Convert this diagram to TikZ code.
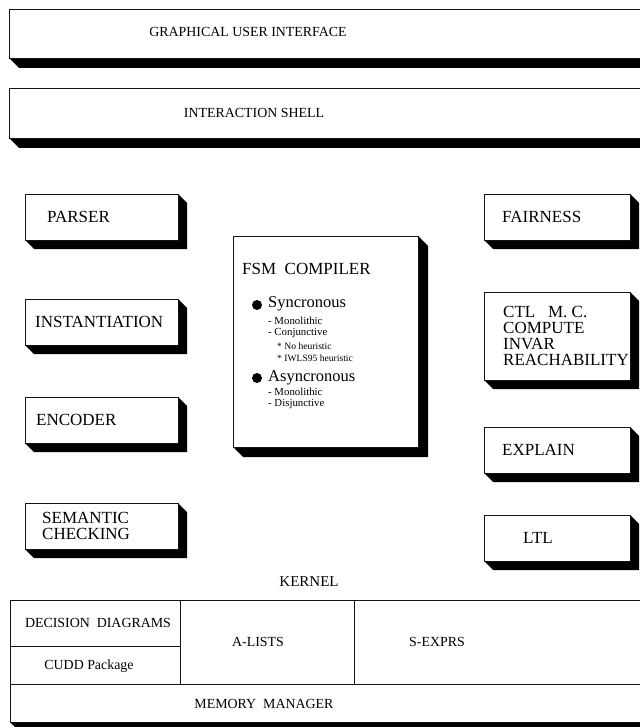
\documentclass[tikz,border=0pt]{standalone}
\usepackage{fontspec}
\setmainfont{Liberation Serif}
\usetikzlibrary{positioning}
\usetikzlibrary{calc}
\usetikzlibrary{backgrounds}
\definecolor{figBorde}{RGB}{20,20,20}
\definecolor{figSombra}{RGB}{0,0,0}
\tikzset{
  caja/.style={
    rectangle, draw=figBorde, line width=0.8pt, fill=white,
    minimum width=153pt, minimum height=46pt, inner sep=0pt, outer sep=0pt
  },
  cajad/.style={caja, minimum width=146pt},
  franja/.style={caja, minimum width=651pt, minimum height=49pt},
  celda/.style={
    rectangle, draw=figBorde, line width=0.8pt, inner sep=0pt, outer sep=0pt
  },
  rotulo/.style={inner sep=0pt, anchor=west, align=left, font=\fontsize{17}{16}\selectfont},
  rotulok/.style={inner sep=0pt, font=\fontsize{13.9}{16}\selectfont},
  rotulos/.style={inner sep=0pt, anchor=west, font=\fontsize{10.8}{12}\selectfont},
  rotulot/.style={inner sep=0pt, anchor=west, font=\fontsize{9.6}{11}\selectfont},
  punto/.style={circle, fill=black, inner sep=0pt, minimum size=10pt}
}
\newcommand{\sombra}[2]{%
  \fill[figSombra] (#1.south west) -- ++(#2,-#2) -- ($(#1.south east)+(#2,-#2)$)
    -- ($(#1.north east)+(#2,-#2)$) -- (#1.north east) -- (#1.south east) -- cycle;}

\begin{document}
\begin{tikzpicture}[x=1pt, y=-1pt]
  \useasboundingbox (0,0) rectangle (639,727);

  % Capas superiores
  \node[franja] (gui) at (334.5,33.5) {};
  \node[franja, minimum height=50pt, below=30pt of gui] (shell) {};
  \node[rotulok] (guitxt) at (248,32) {GRAPHICAL USER INTERFACE};
  \node[rotulok] (shelltxt) at (254,113) {INTERACTION SHELL};

  % Columna izquierda
  \node[caja] (parser) at (101.5,217) {};
  \node[caja, below=59pt of parser] (inst) {};
  \node[caja, below=52pt of inst] (enc) {};
  \node[caja, below=60pt of enc] (sem) {};
  \node[rotulo, right=22pt of parser.west] (parsertxt) {PARSER};
  \node[rotulo, right=10pt of inst.west] (insttxt) {INSTANTIATION};
  \node[rotulo, right=11pt of enc.west] (enctxt) {ENCODER};
  \node[rotulo, right=17pt of sem.west] (semtxt) {SEMANTIC\\CHECKING};

  % Columna derecha
  \node[cajad] (fair) at (557,217) {};
  \node[cajad, minimum height=88pt, below=52pt of fair] (ctl) {};
  \node[cajad, below=47pt of ctl] (expl) {};
  \node[cajad, below=42pt of expl] (ltl) {};
  \node[rotulo, right=18pt of fair.west] (fairtxt) {FAIRNESS};
  \node[rotulo, right=19pt of ctl.west] (ctltxt) {CTL~~~M.~C.\\COMPUTE\\INVAR\\REACHABILITY};
  \node[rotulo, right=18pt of expl.west] (expltxt) {EXPLAIN};
  \node[rotulo, right=39pt of ltl.west] (ltltxt) {LTL};

  % Compilador FSM
  \node[caja, minimum width=185pt, minimum height=211pt] (fsm) at (325.5,341.5) {};
  \node[rotulo] (fsmtit) at (242,269) {FSM~~COMPILER};
  \node[punto] (p1) at (257,305) {};
  \node[rotulo, font=\fontsize{16.5}{18}\selectfont] (sinc) at (268,304) {Syncronous};
  \node[rotulos] (s1) at (268,321) {- Monolithic};
  \node[rotulos] (s2) at (268,333.5) {- Conjunctive};
  \node[rotulot] (s3) at (277,346.5) {* No heuristic};
  \node[rotulot] (s4) at (277,358.5) {* IWLS95 heuristic};
  \node[punto] (p2) at (257,378) {};
  \node[rotulo, font=\fontsize{16.5}{18}\selectfont] (asinc) at (268,378) {Asyncronous};
  \node[rotulos] (a1) at (268,392) {- Monolithic};
  \node[rotulos] (a2) at (268,404.5) {- Disjunctive};

  % Nucleo
  \node[rotulok, font=\fontsize{15}{16}\selectfont] (kerntxt) at (309,582) {KERNEL};
  \node[celda, minimum width=170pt, minimum height=46pt] (dd) at (95,623) {};
  \node[celda, minimum width=170pt, minimum height=38pt, below=0pt of dd] (cudd) {};
  \node[celda, minimum width=174pt, minimum height=84pt, anchor=north west] (alist) at (dd.north east) {};
  \node[celda, minimum width=306pt, minimum height=84pt, anchor=north west] (sexp) at (alist.north east) {};
  \node[celda, minimum width=650pt, minimum height=38pt, anchor=north west] (mem) at (cudd.south west) {};
  \node[celda, minimum width=650pt, minimum height=122pt, anchor=north west] (kern) at (dd.north west) {};
  \node[rotulok] (ddtxt) at (98,623) {DECISION~~DIAGRAMS};
  \node[rotulok] (cuddtxt) at (89,666) {CUDD Package};
  \node[rotulok] (alisttxt) at (258,642) {A-LISTS};
  \node[rotulok] (sexptxt) at (437,642) {S-EXPRS};
  \node[rotulok] (memtxt) at (264,704) {MEMORY~~MANAGER};

  % Sombras
  \begin{scope}[on background layer]
    \sombra{gui}{10pt}
    \sombra{shell}{10pt}
    \sombra{parser}{9pt}
    \sombra{inst}{9pt}
    \sombra{enc}{9pt}
    \sombra{sem}{9pt}
    \sombra{fair}{9pt}
    \sombra{ctl}{9pt}
    \sombra{expl}{9pt}
    \sombra{ltl}{9pt}
    \sombra{fsm}{10pt}
    \sombra{kern}{8pt}
  \end{scope}
\end{tikzpicture}
\end{document}
